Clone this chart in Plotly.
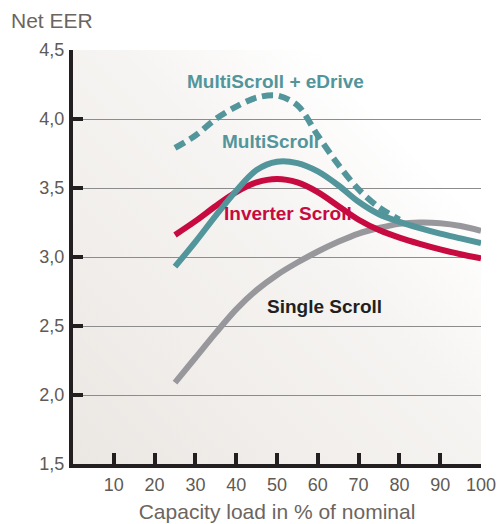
import base64
import plotly.graph_objects as go

# ---- data ----
load_pct = [25, 30, 35, 40, 45, 50, 55, 60, 65, 70, 75, 80, 85, 90, 95, 100]
single_scroll = [2.09, 2.27, 2.45, 2.62, 2.76, 2.87, 2.96, 3.04, 3.11, 3.17, 3.21, 3.24, 3.25, 3.245, 3.225, 3.19]
inverter_scroll = [3.16, 3.26, 3.37, 3.47, 3.54, 3.565, 3.54, 3.47, 3.37, 3.27, 3.195, 3.14, 3.095, 3.055, 3.02, 2.99]
multiscroll = [2.93, 3.11, 3.30, 3.48, 3.63, 3.69, 3.68, 3.62, 3.52, 3.40, 3.31, 3.255, 3.21, 3.17, 3.135, 3.10]
edrive_pct = [25, 30, 35, 40, 45, 50, 55, 60, 65, 70, 75, 80]
multiscroll_edrive = [3.79, 3.88, 4.00, 4.09, 4.155, 4.17, 4.10, 3.88, 3.67, 3.49, 3.36, 3.27]

x_ticks = [10, 20, 30, 40, 50, 60, 70, 80, 90, 100]
y_ticks = [1.5, 2.0, 2.5, 3.0, 3.5, 4.0, 4.5]
y_ticktext = ["1,5", "2,0", "2,5", "3,0", "3,5", "4,0", "4,5"]

labels = ["MultiScroll + eDrive", "MultiScroll", "Inverter Scroll", "Single Scroll"]
label_x = [49.6, 48.4, 52.6, 61.7]
label_y = [4.27, 3.84, 3.315, 2.64]

TEAL = "#52959b"
RED = "#c70a40"
GRAY = "#98989c"
label_colors = [TEAL, TEAL, RED, "#231f20"]
FONT = "Liberation Sans, Arial, sans-serif"

fig = go.Figure()

fig.add_trace(go.Scatter(x=load_pct, y=single_scroll, mode="lines",
                         line=dict(color=GRAY, width=6, shape="spline", smoothing=0.9),
                         name="Single Scroll"))
fig.add_trace(go.Scatter(x=load_pct, y=inverter_scroll, mode="lines",
                         line=dict(color=RED, width=6, shape="spline", smoothing=0.9),
                         name="Inverter Scroll"))
fig.add_trace(go.Scatter(x=load_pct, y=multiscroll, mode="lines",
                         line=dict(color=TEAL, width=6, shape="spline", smoothing=0.9),
                         name="MultiScroll"))
fig.add_trace(go.Scatter(x=edrive_pct, y=multiscroll_edrive, mode="lines",
                         line=dict(color=TEAL, width=6, shape="spline", smoothing=0.9, dash="11px,6px"),
                         name="MultiScroll + eDrive"))

for t, lx, ly, c in zip(labels, label_x, label_y, label_colors):
    fig.add_annotation(x=lx, y=ly, text="<b>%s</b>" % t, showarrow=False,
                       font=dict(family=FONT, size=19, color=c),
                       xanchor="center", yanchor="middle")

fig.add_annotation(xref="paper", yref="paper", x=-0.157, y=1.072, text="Net EER",
                   showarrow=False, xanchor="left", yanchor="middle",
                   font=dict(family=FONT, size=21, color="#6b6560"))

# gradient plot background
svg = ('<svg xmlns="http://www.w3.org/2000/svg" width="400" height="400" viewBox="0 0 400 400" preserveAspectRatio="none">'
       '<defs><linearGradient id="g" x1="0" y1="1" x2="1" y2="0">'
       '<stop offset="0" stop-color="#ebe7e3"/><stop offset="0.55" stop-color="#f6f4f2"/>'
       '<stop offset="0.8" stop-color="#ffffff"/><stop offset="1" stop-color="#ffffff"/>'
       '</linearGradient></defs><rect width="400" height="400" fill="url(#g)"/></svg>')
src = "data:image/svg+xml;base64," + base64.b64encode(svg.encode()).decode()
fig.add_layout_image(dict(source=src, xref="paper", yref="paper", x=0, y=1, sizex=1, sizey=1,
                          sizing="stretch", layer="below", xanchor="left", yanchor="top"))

tickfont = dict(family=FONT, size=18, color="#5f5a55")

fig.update_xaxes(range=[0, 100], tickvals=x_ticks, ticks="inside", ticklen=11, tickwidth=4,
                 tickcolor="#231f20", showline=True, linewidth=4, linecolor="#231f20",
                 showgrid=False, zeroline=False, tickfont=tickfont, ticklabelstandoff=1,
                 automargin=False,
                 title=dict(text="Capacity load in % of nominal", standoff=12,
                            font=dict(family=FONT, size=21, color="#6b6560")))
fig.update_yaxes(range=[1.5, 4.5], tickvals=y_ticks, ticktext=y_ticktext, ticks="inside", ticklen=10,
                 tickwidth=4, tickcolor="#231f20", showline=True, linewidth=4, linecolor="#231f20",
                 showgrid=True, gridcolor="#8c8c8c", gridwidth=1, zeroline=False, tickfont=tickfont,
                 ticklabelstandoff=1, automargin=False)

fig.update_layout(width=500, height=524, margin=dict(l=73, r=19, t=50, b=60),
                  paper_bgcolor="white", plot_bgcolor="rgba(0,0,0,0)", showlegend=False)

fig.write_html("out.html", config={"displayModeBar": False},
               post_script="document.body.style.margin='0';document.body.style.overflow='hidden';")
